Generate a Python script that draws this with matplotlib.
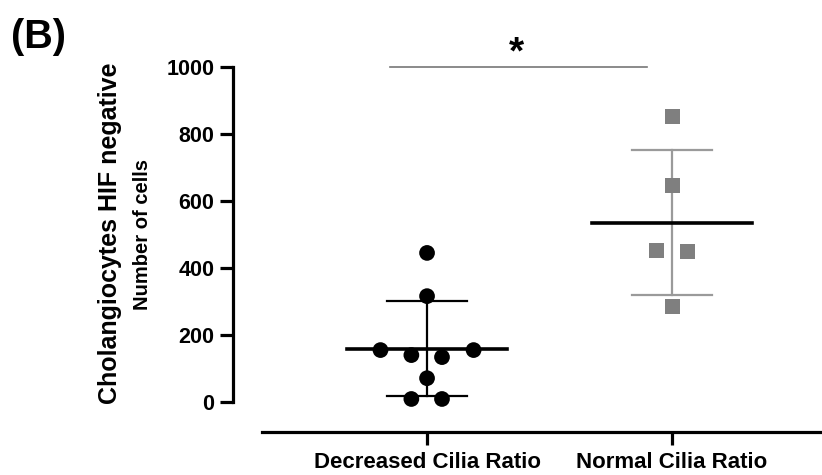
import numpy as np
import matplotlib.pyplot as plt

plt.rcParams['font.family'] = ['Liberation Sans', 'DejaVu Sans']

categories = ['Decreased Cilia Ratio', 'Normal Cilia Ratio']

# cell counts (swarm offsets as they were drawn)
decreased = [445, 316, 155, 155, 140, 134, 71, 9, 9]
decreased_dx = [0.0, 0.0, -0.19, 0.19, -0.064, 0.061, 0.0, -0.064, 0.061]
normal = [851, 645, 451, 448, 284]
normal_dx = [0.0, 0.0, -0.063, 0.063, 0.0]

yticks = [0, 200, 400, 600, 800, 1000]

fig = plt.figure(figsize=(8.22, 4.75), dpi=100)
W, H = 822, 475
ax = fig.add_axes([233 / W, (H - 402) / H, (W - 233) / W, 335 / H])

groups = [
    (decreased, decreased_dx, 'o', 'black', 'black'),
    (normal, normal_dx, 's', '#7f7f7f', '#9a9a9a'),
]
for i, (vals, dx, mk, col, ecol) in enumerate(groups):
    vals = np.array(vals, dtype=float)
    m = vals.mean()
    sd = vals.std(ddof=1)
    ax.scatter(i + np.array(dx), vals, marker=mk, s=128 if mk == 'o' else 118,
               color=col, edgecolors='none', zorder=3, clip_on=False)
    # SD bar
    ax.plot([i, i], [m - sd, m + sd], color=ecol, lw=1.6, zorder=2)
    ax.plot([i - 0.163, i + 0.163], [m + sd, m + sd], color=ecol, lw=1.6, zorder=2)
    ax.plot([i - 0.163, i + 0.163], [m - sd, m - sd], color=ecol, lw=1.6, zorder=2)
    # mean
    ax.plot([i - 0.327, i + 0.327], [m, m], color='black', lw=2.6, zorder=4)

# significance bracket
ax.plot([-0.151, 0.898], [1000, 1000], color='#777777', lw=1.2, clip_on=False)
ax.text(0.367, 1040, '*', ha='center', va='center', fontsize=28, fontweight='bold')

ax.set_xlim(-0.792, 1.612)
ax.set_ylim(0, 1000)
ax.set_yticks(yticks)
ax.set_xticks([0, 1])
ax.set_xticklabels(categories)

for s in ['top', 'right']:
    ax.spines[s].set_visible(False)
ax.spines['left'].set_linewidth(2.3)
ax.spines['bottom'].set_linewidth(2.3)
ax.spines['bottom'].set_position(('outward', 21.6))
ax.spines['bottom'].set_bounds(-0.673, 1.612)
ax.tick_params(axis='both', direction='out', length=9.4, width=2.3, pad=4)
ax.tick_params(axis='y', labelsize=15.5)
ax.tick_params(axis='x', labelsize=16, pad=5)
for lab in ax.get_xticklabels() + ax.get_yticklabels():
    lab.set_fontweight('bold')

fig.text(110 / W, 1 - 233 / H, 'Cholangiocytes HIF negative', rotation=90,
         ha='center', va='center', fontsize=18, fontweight='bold')
fig.text(142 / W, 1 - 234 / H, 'Number of cells', rotation=90,
         ha='center', va='center', fontsize=14.5, fontweight='bold')
fig.text(11 / W, 1 - 37 / H, '(B)', ha='left', va='center',
         fontsize=28.5, fontweight='bold')

fig.savefig('out.png', dpi=100)
